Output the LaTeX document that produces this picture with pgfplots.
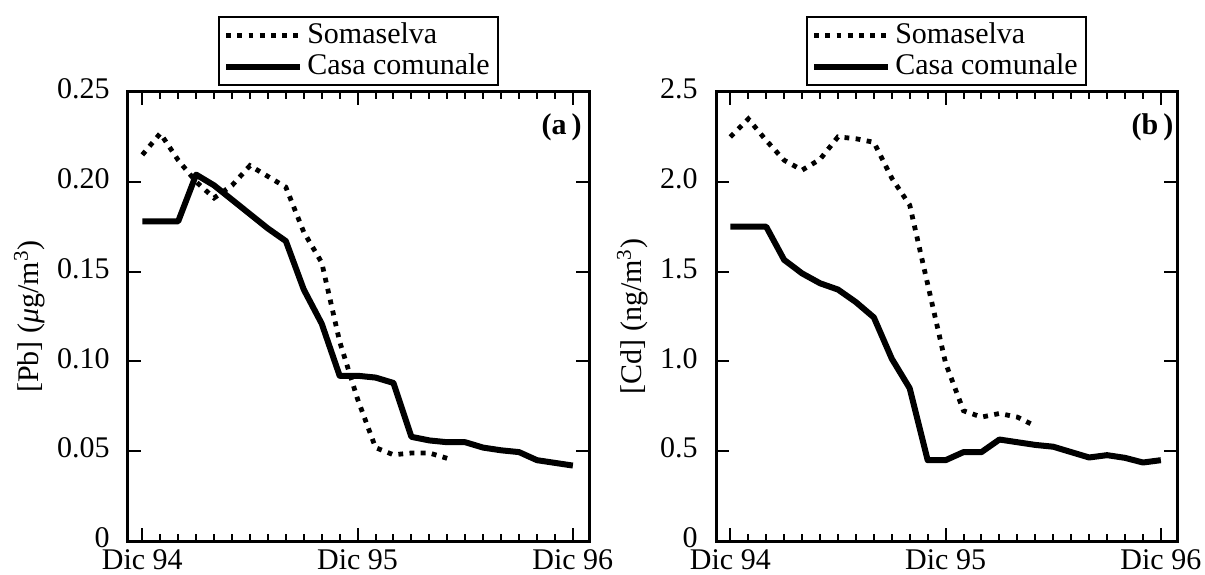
\documentclass[border=0pt]{standalone}
\usepackage{fontspec}
\setmainfont{Liberation Serif}
\usepackage{pgfplots}
\pgfplotsset{compat=1.18}
\usepackage{pgfplotstable}

\pgfplotstableread{
m v
0 0.215
1 0.227
2 0.212
3 0.200
4 0.191
5 0.198
6 0.209
7 0.203
8 0.197
9 0.172
10 0.155
11 0.111
12 0.079
13 0.052
14 0.048
15 0.049
16 0.049
17 0.046
}\pbSoma

\pgfplotstableread{
m v
0 0.178
1 0.178
2 0.178
3 0.204
4 0.198
5 0.190
6 0.182
7 0.174
8 0.167
9 0.140
10 0.121
11 0.092
12 0.092
13 0.091
14 0.088
15 0.058
16 0.056
17 0.055
18 0.055
19 0.052
20 0.0505
21 0.0495
22 0.045
23 0.0435
24 0.042
}\pbCasa

\pgfplotstableread{
m v
0 2.25
1 2.35
2 2.23
3 2.12
4 2.065
5 2.125
6 2.25
7 2.24
8 2.22
9 2.02
10 1.87
11 1.43
12 0.99
13 0.725
14 0.69
15 0.71
16 0.69
17 0.64
}\cdSoma

\pgfplotstableread{
m v
0 1.75
1 1.75
2 1.75
3 1.565
4 1.49
5 1.435
6 1.40
7 1.33
8 1.245
9 1.015
10 0.85
11 0.45
12 0.45
13 0.495
14 0.495
15 0.565
16 0.55
17 0.535
18 0.525
19 0.495
20 0.465
21 0.478
22 0.463
23 0.437
24 0.45
}\cdCasa

\pgfplotsset{
  myaxis/.style={
    scale only axis, width=230.5pt, height=224.5pt,
    xmin=-0.8, xmax=24.9, ymin=0,
    xtick={0,12,24}, xticklabels={Dic 94, Dic 95, Dic 96},
    minor xtick={1,2,3,4,5,6,7,8,9,10,11,13,14,15,16,17,18,19,20,21,22,23},
    tick align=inside, xtick pos=both, ytick pos=both,
    major tick length=6.5pt, minor tick length=3.5pt,
    every tick/.style={black, line width=1pt},
    axis line style={line width=1.5pt},
    yticklabel style={inner sep=1pt, xshift=-8pt, yshift=1.5pt},
    xticklabel style={inner sep=1pt, yshift=-3pt},
    legend style={at={(0.5,1.013)}, anchor=south, draw=black, line width=1pt,
      cells={anchor=west}, inner xsep=2pt, inner ysep=1pt, row sep=-1pt},
    legend image code/.code={\draw[##1] (0pt,0pt) -- (28.5pt,0pt); \path (0pt,0pt) -- (37pt,0pt);},
  },
  soma/.style={black, line width=2.4pt, dash pattern=on 2.4pt off 3.2pt, line cap=butt},
  casa/.style={black, line width=3pt, line join=round},
}

\begin{document}
\fontsize{15}{18}\selectfont
\begin{tikzpicture}
\path[use as bounding box] (-64pt,-16.5pt) rectangle (538.5pt,270.5pt);
\begin{axis}[myaxis, at={(0pt,0pt)}, anchor=south west,
  ymax=0.25,
  ytick={0,0.05,0.10,0.15,0.20,0.25},
  yticklabels={0,0.05,0.10,0.15,0.20,0.25},
  ylabel={[Pb] (\textit{μ}g/m\textsuperscript{3})}]
\addplot[soma] table[x=m,y=v] {\pbSoma};
\addlegendentry{Somaselva}
\addplot[casa] table[x=m,y=v] {\pbCasa};
\addlegendentry{Casa comunale}
\node[anchor=north east, inner sep=0pt, font=\bfseries] at (rel axis cs:0.985,0.952) {(a\,)};
\end{axis}
\begin{axis}[myaxis, at={(294pt,0pt)}, anchor=south west,
  ymax=2.5,
  ytick={0,0.5,1.0,1.5,2.0,2.5},
  yticklabels={0,0.5,1.0,1.5,2.0,2.5},
  ylabel={[Cd] (ng/m\textsuperscript{3})}]
\addplot[soma] table[x=m,y=v] {\cdSoma};
\addlegendentry{Somaselva}
\addplot[casa] table[x=m,y=v] {\cdCasa};
\addlegendentry{Casa comunale}
\node[anchor=north east, inner sep=0pt, font=\bfseries] at (rel axis cs:0.993,0.952) {(b\,)};
\end{axis}
\end{tikzpicture}
\end{document}
